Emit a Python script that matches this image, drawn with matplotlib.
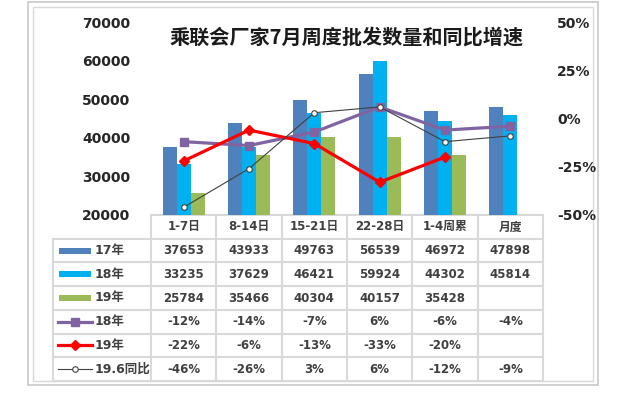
import numpy as np
import matplotlib.pyplot as plt

plt.rcParams['font.family'] = ['DejaVu Sans', 'Noto Sans CJK SC']

# 数据
periods = ['1-7日', '8-14日', '15-21日', '22-28日', '1-4周累', '月度']
sales_17 = [37653, 43933, 49763, 56539, 46972, 47898]
sales_18 = [33235, 37629, 46421, 59924, 44302, 45814]
sales_19 = [25784, 35466, 40304, 40157, 35428, np.nan]
yoy_18 = [-12, -14, -7, 6, -6, -4]
yoy_19 = [-22, -6, -13, -33, -20, np.nan]
yoy_196 = [-46, -26, 3, 6, -12, -9]
left_ticks = [20000, 30000, 40000, 50000, 60000, 70000]
right_ticks = [-50, -25, 0, 25, 50]
series_names = ['17年', '18年', '19年', '18年', '19年', '19.6同比']
title = '乘联会厂家7月周度批发数量和同比增速'

c17, c18, c19 = '#4F81BD', '#00B0F0', '#9BBB59'
c_purple, c_red, c_black = '#8064A2', '#FF0000', '#404040'
grid_c = '#D9D9D9'
txt_c = '#404040'

W, H = 639, 399
fig = plt.figure(figsize=(W / 100, H / 100), dpi=100)

# 背景层（像素坐标）：边框和表格
ov = fig.add_axes([0, 0, 1, 1], zorder=-1)
ov.set_xlim(0, W)
ov.set_ylim(H, 0)
ov.axis('off')
ov.add_patch(plt.Rectangle((28, 2), 570, 383, fill=False, ec='#C8C8C8', lw=1.2))
ov.add_patch(plt.Rectangle((33, 7), 560, 374, fill=False, ec='#D9D9D9', lw=1.0))

px0, px1, py_top, py_bot = 151, 543, 22, 215
ax = fig.add_axes([px0 / W, 1 - py_bot / H, (px1 - px0) / W, (py_bot - py_top) / H])
ax.patch.set_visible(False)

x = np.arange(len(periods))
w = 0.215
ax.bar(x - w, sales_17, w, color=c17, zorder=2)
ax.bar(x, sales_18, w, color=c18, zorder=2)
ax.bar(x + w, sales_19, w, color=c19, zorder=2)
ax.set_xlim(-0.5, len(periods) - 0.5)
ax.set_ylim(20000, 70000)
ax.set_yticks(left_ticks)
ax.set_yticklabels([str(t) for t in left_ticks], fontsize=10, fontweight='bold', color='#262626')
ax.tick_params(axis='y', length=0, pad=15)
ax.set_xticks([])
for s in ax.spines.values():
    s.set_visible(False)

ax2 = ax.twinx()
ax2.plot(x, yoy_18, color=c_purple, lw=2.3, marker='s', ms=6, zorder=3)
ax2.plot(x, yoy_19, color=c_red, lw=2.3, marker='D', ms=5, zorder=4)
ax2.plot(x, yoy_196, color=c_black, lw=0.8, marker='o', ms=4, mfc='white', mec=c_black, mew=0.8, zorder=5)
ax2.set_ylim(-50, 50)
ax2.set_yticks(right_ticks)
ax2.set_yticklabels([f'{t}%' for t in right_ticks], fontsize=10, fontweight='bold', color='#262626')
ax2.tick_params(axis='y', length=0, pad=10)
for s in ax2.spines.values():
    s.set_visible(False)

fig.text(347 / W, 1 - 37 / H, title, ha='center', va='center', fontsize=14.5,
         fontweight='bold', family=['Noto Sans CJK SC', 'DejaVu Sans'], color='#1a1a1a')

# 数据表
row_edges = np.linspace(215, 381, 8)
col_edges = np.linspace(px0, px1, len(periods) + 1)
for i, ye in enumerate(row_edges):
    ov.plot([px0 if i == 0 else 53, px1], [ye, ye], color=grid_c, lw=1.5)
ov.plot([53, 53], [row_edges[1], row_edges[-1]], color=grid_c, lw=1.5)
for xe in col_edges:
    ov.plot([xe, xe], [row_edges[0], row_edges[-1]], color=grid_c, lw=1.5)

col_c = (col_edges[:-1] + col_edges[1:]) / 2
row_c = (row_edges[:-1] + row_edges[1:]) / 2

def fmt_num(v):
    return '' if np.isnan(v) else f'{int(v)}'

def fmt_pct(v):
    return '' if np.isnan(v) else f'{int(v)}%'

rows = [
    [fmt_num(v) for v in np.array(sales_17, float)],
    [fmt_num(v) for v in np.array(sales_18, float)],
    [fmt_num(v) for v in np.array(sales_19, float)],
    [fmt_pct(v) for v in np.array(yoy_18, float)],
    [fmt_pct(v) for v in np.array(yoy_19, float)],
    [fmt_pct(v) for v in np.array(yoy_196, float)],
]
for j, p in enumerate(periods):
    ov.text(col_c[j], row_c[0], p, ha='center', va='center', fontsize=8.5,
            fontweight='bold', color=txt_c)
for i, r in enumerate(rows):
    for j, s in enumerate(r):
        ov.text(col_c[j], row_c[i + 1], s, ha='center', va='center', fontsize=8.5,
                fontweight='bold', color=txt_c)

# 图例
for i, name in enumerate(series_names):
    yc = row_c[i + 1]
    ov.text(95, yc, name, ha='left', va='center', fontsize=9, fontweight='bold', color=txt_c)
for i, c in enumerate([c17, c18, c19]):
    ov.add_patch(plt.Rectangle((59, row_c[i + 1] - 3), 32, 6, color=c, lw=0))
ov.plot([58, 92], [row_c[4]] * 2, color=c_purple, lw=2.3)
ov.plot([75], [row_c[4]], marker='s', ms=6, color=c_purple)
ov.plot([58, 92], [row_c[5]] * 2, color=c_red, lw=2.3)
ov.plot([75], [row_c[5]], marker='D', ms=5, color=c_red)
ov.plot([58, 92], [row_c[6]] * 2, color=c_black, lw=0.8)
ov.plot([75], [row_c[6]], marker='o', ms=4, mfc='white', mec=c_black, mew=0.8)

fig.savefig('out.png', dpi=100)
